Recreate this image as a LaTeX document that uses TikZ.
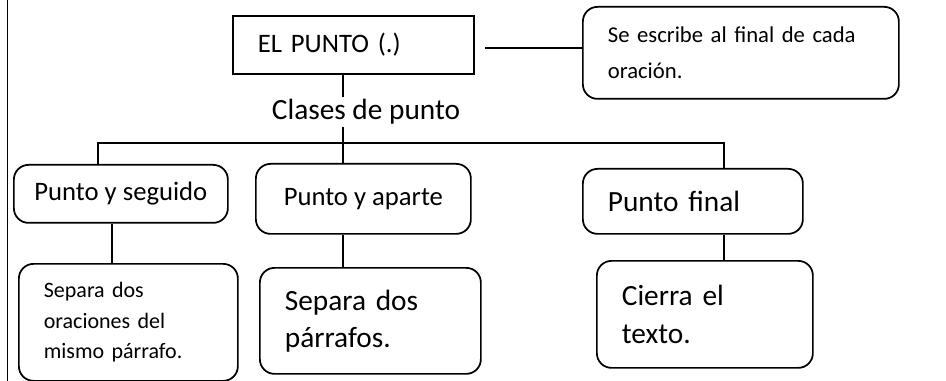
\documentclass[tikz,border=0pt]{standalone}
\usepackage{fontspec}
\setmainfont{Carlito}

\begin{document}
\begin{tikzpicture}[
      x=0.75pt, y=-0.75pt, % one unit is one pixel of the sheet, y downwards
      line width=1.3pt,
      box/.style={
        rectangle,
        draw,
        anchor=north west,
        align=left,
        inner xsep=18.75pt, % text starts about 25px in
        inner ysep=0pt
      },
      roundbox/.style={box, rounded corners=11pt},
      bigtext/.style={font=\fontsize{22}{28}\selectfont},
      smalltext/.style={font=\fontsize{17}{27}\selectfont}
    ]
    \useasboundingbox (0,0) rectangle (946,381);
    \draw (7.5,0) -- (7.5,381); % page edge on the left

    \node[box, text width=143.25pt, minimum height=43.5pt,
      font=\fontsize{20}{24}\selectfont] (title) at (232,15) {EL PUNTO (.)};
    \node[roundbox, smalltext, text width=199.5pt, minimum height=69pt]
      (note) at (582,6) {Se escribe al final de cada\\oración.};
    \node[bigtext, inner sep=1pt] (clases) at (366,112) {Clases de punto};

    \node[roundbox, align=center, minimum width=160.5pt, minimum height=43.5pt,
      inner xsep=0pt, font=\fontsize{20}{24}\selectfont] (seguido) at (13,164) {Punto y seguido};
    \node[roundbox, align=center, minimum width=161.25pt, minimum height=52.5pt,
      inner xsep=0pt, font=\fontsize{20}{24}\selectfont] (aparte) at (255,163) {Punto y aparte};
    \node[roundbox, bigtext, text width=127.5pt, minimum height=48.75pt]
      (final) at (582,168) {Punto final};

    \node[roundbox, font=\fontsize{16.5}{23}\selectfont, text width=126.75pt, minimum height=87.75pt]
      (seguidodesc) at (18,263) {Separa dos\\oraciones del\\mismo párrafo.};
    \node[roundbox, bigtext, text width=128.25pt, minimum height=79.5pt]
      (apartedesc) at (259,267) {Separa dos\\párrafos.};
    \node[roundbox, bigtext, text width=124.5pt, minimum height=80.25pt]
      (finaldesc) at (596,260) {Cierra el\\texto.};

    \coordinate (trunk) at (343,143);
    \coordinate (busL) at (98,143);
    \coordinate (busR) at (724,143);
    \coordinate (stem) at (112,243);
    \coordinate (link) at (485,48);

    \draw (title.south -| trunk) -- (clases.north -| trunk);
    \draw (clases.south -| trunk) -- (aparte.north -| trunk);
    \draw (seguido.north -| busL) -- (busL) -- (busR) -- (final.north -| busR);
    \draw (link) -- (note.west |- link);
    \draw (seguido.south -| stem) -- (seguidodesc.north -| stem);
    \draw (aparte.south -| trunk) -- (apartedesc.north -| trunk);
    \draw (final.south -| busR) -- (finaldesc.north -| busR);
  \end{tikzpicture}
\end{document}
